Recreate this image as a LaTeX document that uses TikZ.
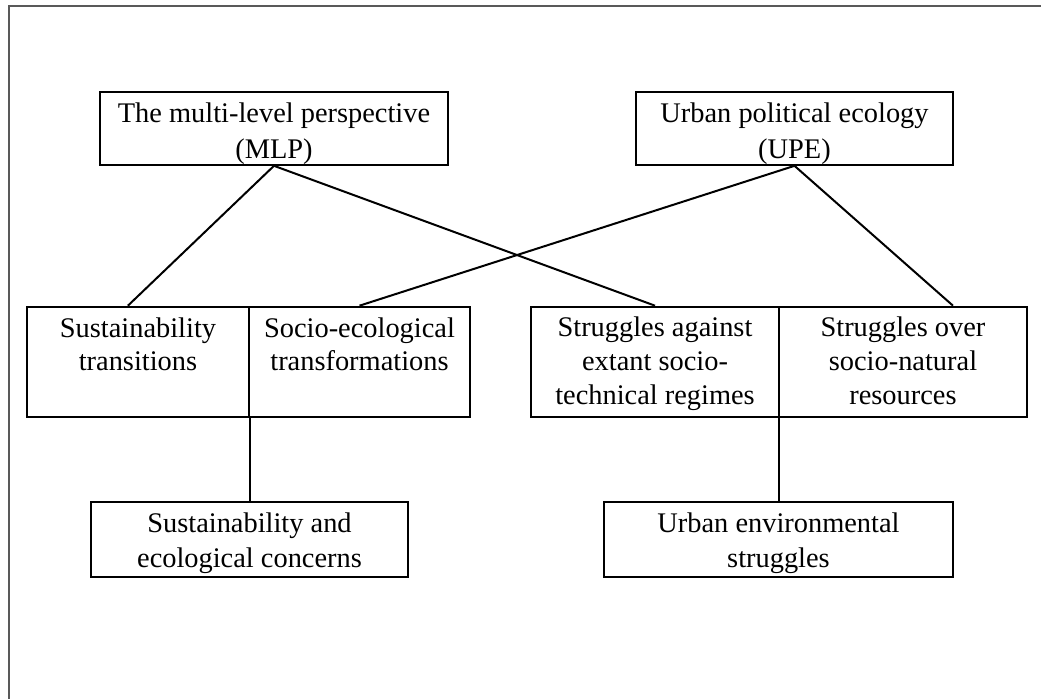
\documentclass[tikz,border=0pt]{standalone}
\usepackage{fontspec}
\setmainfont{Liberation Serif}
\usetikzlibrary{calc}
% struts: height of the first line, depth of the last line
\newcommand{\up}[1]{\rule{0pt}{#1}}
\newcommand{\dn}[1]{\rule[-#1]{0pt}{0pt}}

\begin{document}
\begin{tikzpicture}[x=0.5pt,y=-0.5pt]
    \tikzstyle{every node}=[draw,rectangle,line width=1pt,align=center,
                            inner sep=0pt]
    \tikzstyle{top}=[minimum height=36.3pt,font=\fontsize{14.2}{18.3}\selectfont]
    \tikzstyle{cell}=[minimum height=55pt,font=\fontsize{14.2}{16.8}\selectfont]
    \tikzstyle{low}=[minimum height=37.2pt,font=\fontsize{14.2}{17.7}\selectfont]
    \tikzstyle{link}=[line width=1pt]

    % page frame, only its left and top edges show
    \useasboundingbox (0,0) rectangle (1041,699);
    \draw [black!65,line width=1pt] (9,699) -- (9,6) -- (1041,6);

    % the two theories
    \node (mlp) [top,minimum width=174pt] at (274,128.5)
        {\up{15pt}The multi-level perspective\\(MLP)\dn{3pt}};
    \node (upe) [top,minimum width=158.5pt] at (794.5,128.5)
        {\up{15pt}Urban political ecology\\(UPE)\dn{3pt}};

    % middle row: two split boxes
    \node (st) [cell,minimum width=111pt] at (138,361.7)
        {\up{15pt}Sustainability\\transitions\dn{22.8pt}};
    \node (se) [cell,minimum width=110.5pt] at (359.5,361.7)
        {\up{15pt}Socio-ecological\\transformations\dn{22.8pt}};
    \node (sa) [cell,minimum width=124pt] at (655,361.7)
        {\up{15pt}Struggles against\\extant socio-\\technical regimes\dn{6.2pt}};
    \node (so) [cell,minimum width=124pt] at (903,361.7)
        {\up{15pt}Struggles over\\socio-natural\\resources\dn{6.2pt}};

    % bottom row
    \node (sec) [low,minimum width=158.5pt] at (249.5,539.5)
        {\up{15pt}Sustainability and\\ecological concerns\dn{4.5pt}};
    \node (ues) [low,minimum width=174.5pt] at (778.5,539.5)
        {\up{15pt}Urban environmental\\struggles\dn{4.5pt}};

    % connectors
    \draw [link] (mlp.south) -- ($(st.north west)!0.455!(st.north east)$);
    \draw [link] (mlp.south) -- (sa.north);
    \draw [link] (upe.south) -- (se.north);
    \draw [link] (upe.south) -- ($(so.north west)!0.7!(so.north east)$);
    \draw [link] (sec.north |- st.south) -- (sec.north);
    \draw [link] (ues.north |- sa.south) -- (ues.north);
\end{tikzpicture}
\end{document}
